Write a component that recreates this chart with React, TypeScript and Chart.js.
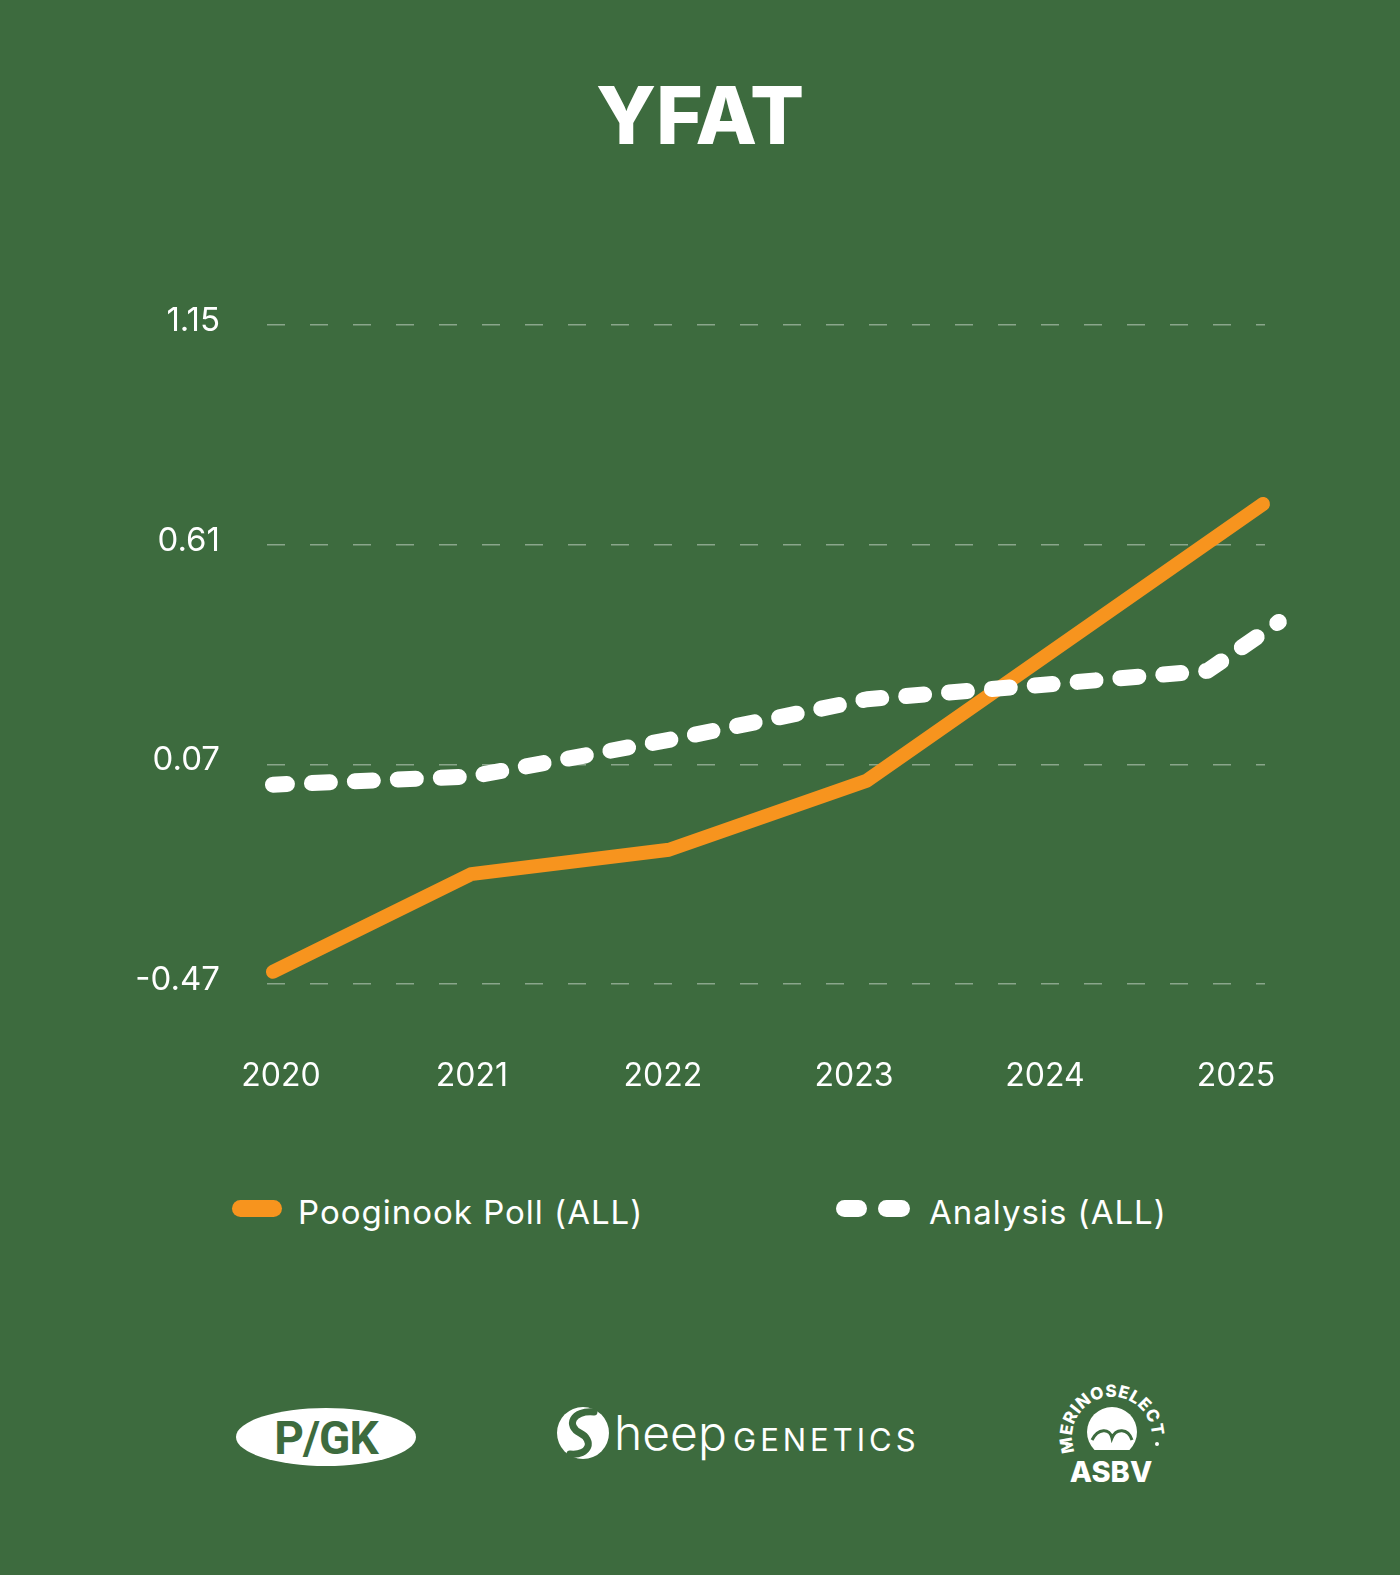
import { useEffect, useRef } from 'react';
import { Chart, registerables } from 'chart.js';

Chart.register(...registerables);

const years = ['2020', '2021', '2022', '2023', '2024', '2025'];
const yTicks = [-0.47, 0.07, 0.61, 1.15];

// Pooginook Poll (ALL)
const pooginookX = [2020, 2021, 2022, 2023, 2024, 2025];
const pooginookY = [-0.44, -0.2, -0.14, 0.03, 0.37, 0.71];

// Analysis (ALL) - has an extra vertex just before the end
const analysisX = [2020, 2021, 2022, 2023, 2024, 2024.72, 2025.08];
const analysisY = [0.02, 0.04, 0.13, 0.23, 0.27, 0.3, 0.42];

const GREEN = '#3d6b3e';
const ORANGE = '#f7941e';
const FONT = 'Inter, "Open Sans", sans-serif';

function TrendChart() {
  const canvasRef = useRef<HTMLCanvasElement>(null);
  const chartRef = useRef<Chart<'line'> | null>(null);

  useEffect(() => {
    if (!canvasRef.current) return;
    chartRef.current?.destroy();

    chartRef.current = new Chart(canvasRef.current, {
      type: 'line',
      data: {
        datasets: [
          {
            label: 'Analysis (ALL)',
            data: analysisX.map((x, i) => ({ x, y: analysisY[i] })),
            borderColor: '#ffffff',
            borderWidth: 16,
            borderDash: [18, 25],
            borderDashOffset: 4,
            borderCapStyle: 'round',
            borderJoinStyle: 'round',
            pointRadius: 0,
            clip: false,
            order: 0,
          },
          {
            label: 'Pooginook Poll (ALL)',
            data: pooginookX.map((x, i) => ({ x, y: pooginookY[i] })),
            borderColor: ORANGE,
            borderWidth: 14,
            borderCapStyle: 'round',
            borderJoinStyle: 'round',
            pointRadius: 0,
            clip: false,
            order: 1,
          },
        ],
      },
      options: {
        responsive: false,
        animation: false,
        layout: { padding: { left: 117, right: 135, top: 75, bottom: 0 } },
        plugins: { legend: { display: false }, tooltip: { enabled: false } },
        scales: {
          x: {
            type: 'linear',
            display: false,
            min: 2019.97,
            max: 2025.01,
          },
          years: {
            type: 'linear',
            position: 'bottom',
            min: 2019.927,
            max: 2025.152,
            afterBuildTicks: (scale) => {
              scale.ticks = years.map((y) => ({ value: Number(y) }));
            },
            afterFit: (scale) => {
              scale.height = 166;
              scale.paddingLeft = 0;
              scale.paddingRight = 0;
            },
            grid: { display: false, drawTicks: false },
            border: { display: false },
            ticks: {
              color: '#ffffff',
              padding: 73,
              maxRotation: 0,
              autoSkip: false,
              font: { family: FONT, size: 32 },
              callback: (v) => String(v),
            },
          },
          y: {
            type: 'linear',
            min: -0.47,
            max: 1.15,
            afterBuildTicks: (scale) => {
              scale.ticks = yTicks.map((value) => ({ value }));
            },
            afterFit: (scale) => {
              scale.width = 150;
              scale.paddingTop = 0;
              scale.paddingBottom = 0;
            },
            grid: {
              color: 'rgba(255,255,255,0.4)',
              lineWidth: 1.5,
              drawTicks: false,
            },
            border: { display: false, dash: [18, 25] },
            ticks: {
              color: '#ffffff',
              padding: 47,
              labelOffset: -4,
              font: { family: FONT, size: 33 },
              callback: (v) => Number(v).toFixed(2),
            },
          },
        },
      },
    });

    return () => {
      chartRef.current?.destroy();
      chartRef.current = null;
    };
  }, []);

  return (
    <canvas
      ref={canvasRef}
      width={1400}
      height={900}
      style={{ position: 'absolute', left: 0, top: 250, display: 'block' }}
    />
  );
}

function Logos() {
  return (
    <svg
      width={1400}
      height={140}
      style={{ position: 'absolute', left: 0, top: 1370 }}
    >
      {/* P/GK */}
      <ellipse cx={326} cy={67} rx={90} ry={29} fill="#fff" />
      <text
        x={326}
        y={84}
        textAnchor="middle"
        fill={GREEN}
        fontFamily='"Liberation Sans Narrow", "Roboto", sans-serif'
        fontWeight={700}
        fontSize={46}
        letterSpacing={-1}
      >
        P/GK
      </text>
      {/* Sheep Genetics */}
      <circle cx={583} cy={63} r={26} fill="#fff" />
      <path
        d="M 594 42 C 572 40, 566 56, 580 63 C 594 70, 590 86, 570 84"
        stroke={GREEN}
        strokeWidth={7}
        fill="none"
        strokeLinecap="round"
      />
      <text x={614} y={80} fill="#fff" fontFamily={FONT} fontWeight={300} fontSize={48}>
        heep
      </text>
      <text
        x={733}
        y={81}
        fill="#fff"
        fontFamily={FONT}
        fontWeight={400}
        fontSize={31}
        letterSpacing={4}
      >
        GENETICS
      </text>
      {/* MerinoSelect ASBV */}
      <defs>
        <path id="merinoArc" d="M 1075 82 A 40 40 0 1 1 1149 82" />
      </defs>
      <circle cx={1112} cy={62} r={25} fill="#fff" />
      <rect x={1085} y={80} width={54} height={12} fill={GREEN} />
      <path
        d="M 1092 70 C 1098 58, 1110 58, 1112 68 C 1116 58, 1128 58, 1132 70"
        stroke={GREEN}
        strokeWidth={3}
        fill="none"
      />
      <text fill="#fff" fontFamily={FONT} fontWeight={800} fontSize={17} letterSpacing={0.5}>
        <textPath href="#merinoArc">MERINOSELECT</textPath>
      </text>
      <circle cx={1067} cy={74} r={2} fill="#fff" />
      <circle cx={1157} cy={74} r={2} fill="#fff" />
      <text
        x={1111}
        y={112}
        textAnchor="middle"
        fill="#fff"
        fontFamily={FONT}
        fontWeight={800}
        fontSize={29}
      >
        ASBV
      </text>
    </svg>
  );
}

export default function App() {
  useEffect(() => {
    document.body.style.margin = '0';
  }, []);

  const legendText: React.CSSProperties = {
    position: 'absolute',
    top: 1192,
    fontFamily: FONT,
    fontSize: 33,
    letterSpacing: 1,
    lineHeight: '40px',
    color: '#fff',
    whiteSpace: 'nowrap',
  };
  const pill = (left: number, width: number, color: string): React.CSSProperties => ({
    position: 'absolute',
    left,
    top: 1200,
    width,
    height: 17,
    borderRadius: 9,
    background: color,
  });

  return (
    <div
      style={{
        position: 'relative',
        width: 1400,
        height: 1575,
        background: GREEN,
        overflow: 'hidden',
      }}
    >
      <div
        style={{
          position: 'absolute',
          left: 0,
          width: 1400,
          top: 71,
          textAlign: 'center',
          fontFamily: FONT,
          fontWeight: 800,
          fontSize: 80,
          lineHeight: '88px',
          color: '#fff',
        }}
      >
        YFAT
      </div>

      <TrendChart />

      <div style={pill(232, 50, ORANGE)} />
      <div style={{ ...legendText, left: 298 }}>Pooginook Poll (ALL)</div>
      <div style={pill(836, 31, '#fff')} />
      <div style={pill(878, 32, '#fff')} />
      <div style={{ ...legendText, left: 929 }}>Analysis (ALL)</div>

      <Logos />
    </div>
  );
}
